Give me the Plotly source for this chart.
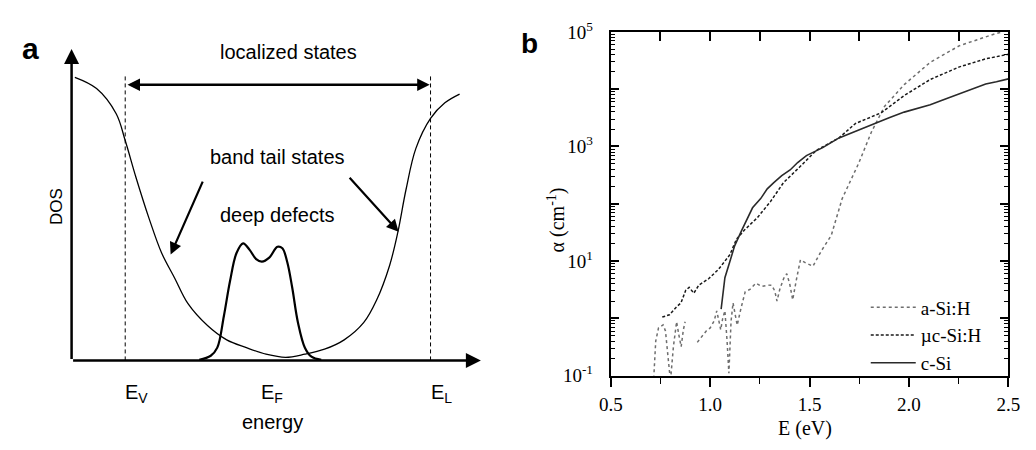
import plotly.graph_objects as go

W, H = 1036, 450

# ---------------- panel a: schematic density of states (arbitrary units) ----------------
dos_energy = [0.08, 0.61, 1.09, 1.31, 1.57, 1.89, 2.20, 2.52, 2.84, 3.32, 3.79, 4.27, 4.75,
              5.23, 5.70, 6.18, 6.66, 7.14, 7.45, 7.77, 7.97, 8.17, 8.41, 8.77, 9.12, 9.48]
dos_value = [9.09, 8.73, 7.92, 7.06, 5.89, 4.57, 3.45, 2.64, 1.83, 1.12, 0.66, 0.41, 0.20,
             0.10, 0.20, 0.36, 0.66, 1.22, 1.93, 3.05, 4.11, 5.48, 6.80, 7.77, 8.27, 8.55]

defect_energy = [3.12, 3.40, 3.56, 3.72, 3.87, 4.03, 4.19, 4.35, 4.51, 4.65, 4.83, 5.03,
                 5.15, 5.27, 5.39, 5.53, 5.70, 5.86, 6.10]
defect_value = [0.02, 0.15, 0.41, 1.42, 2.54, 3.45, 3.76, 3.55, 3.25, 3.17, 3.30, 3.65,
                3.60, 3.15, 2.34, 1.22, 0.41, 0.12, 0.02]

valence_edge = 1.31      # E_V
fermi_level = 4.62       # E_F
mobility_edge = 8.77     # E_L
edge_top = 9.14

# ---------------- panel b: absorption coefficient vs photon energy ----------------
a_si_E = [0.716, 0.726, 0.740, 0.763, 0.775, 0.790, 0.800, 0.815, 0.831, 0.843, 0.854, 0.865, 0.874,
          None,
          0.935, 0.960, 0.980, 1.000, 1.020, 1.033, 1.045, 1.053, 1.063, 1.074, 1.085, 1.094,
          1.105, 1.115, 1.125, 1.136, 1.155, 1.176, 1.200, 1.230, 1.260, 1.290, 1.310, 1.325,
          1.336, 1.350, 1.370, 1.385, 1.400, 1.415, 1.435, 1.454, 1.480, 1.517, 1.559, 1.609,
          1.664, 1.746, 1.812, 1.877, 1.976, 2.107, 2.254, 2.386, 2.435, 2.470]
a_si_alpha = [0.09, 0.40, 0.68, 0.77, 0.60, 0.15, 0.08, 0.32, 0.87, 0.50, 0.32, 0.63, 0.87,
              None,
              0.38, 0.48, 0.60, 0.68, 0.90, 1.35, 0.80, 0.63, 1.00, 1.35, 0.40, 0.11,
              0.90, 1.86, 1.20, 0.76, 1.50, 2.90, 3.20, 4.10, 3.60, 3.80, 3.76, 3.00,
              2.00, 3.20, 5.00, 6.00, 4.00, 2.10, 5.00, 10.5, 9.30, 8.10, 15.0, 28.0,
              123, 500, 1820, 5010, 12020, 29510, 57540, 83180, 93330, 100000]

uc_si_E = [0.759, 0.795, 0.828, 0.853, 0.877, 0.894, 0.918, 0.943, 0.992, 1.041, 1.099, 1.132,
           1.172, 1.238, 1.304, 1.369, 1.450, 1.533, 1.648, 1.730, 1.861, 1.976, 2.107, 2.254,
           2.386, 2.500]
uc_si_alpha = [1.05, 1.15, 1.55, 1.86, 3.09, 3.47, 2.75, 3.80, 4.90, 7.10, 12.9, 24.0,
               34.7, 57.5, 110, 234, 437, 851, 1413, 2512, 3890, 7762, 14790, 24550,
               33880, 40740]

c_si_E = [1.055, 1.062, 1.074, 1.099, 1.123, 1.159, 1.197, 1.213, 1.254, 1.287, 1.320, 1.360,
          1.402, 1.440, 1.484, 1.566, 1.648, 1.746, 1.828, 1.900, 1.976, 2.040, 2.107, 2.170,
          2.238, 2.310, 2.386, 2.440, 2.500]
c_si_alpha = [1.45, 2.5, 5.1, 9.8, 18.4, 34.7, 66, 85, 123, 182, 234, 309,
              389, 525, 692, 955, 1413, 1950, 2512, 3162, 3981, 4571, 5370, 6457,
              7943, 9772, 12300, 13490, 15140]

x_ticks = [0.5, 1.0, 1.5, 2.0, 2.5]
x_tick_text = ["0.5", "1.0", "1.5", "2.0", "2.5"]
y_ticks = [0.1, 1, 10, 100, 1000, 10000, 100000]
y_tick_text = ["10<sup>-1</sup>", "", "10<sup>1</sup>", "", "10<sup>3</sup>", "", "10<sup>5</sup>"]

SANS = "Liberation Sans, Arial, sans-serif"
SERIF = "Liberation Serif, Times New Roman, serif"


def px(x):
    return x / W


def py(y):
    return 1 - y / H


fig = go.Figure()

# panel a curves
fig.add_trace(go.Scatter(x=dos_energy, y=dos_value, mode="lines", line_shape="spline",
                         line=dict(color="black", width=1.3), showlegend=False,
                         xaxis="x", yaxis="y", hoverinfo="skip"))
fig.add_trace(go.Scatter(x=defect_energy, y=defect_value, mode="lines", line_shape="spline",
                         line=dict(color="black", width=2.2), showlegend=False,
                         xaxis="x", yaxis="y", hoverinfo="skip"))
for e in (valence_edge, mobility_edge):
    fig.add_trace(go.Scatter(x=[e, e], y=[0, edge_top], mode="lines",
                             line=dict(color="black", width=1, dash="4px,3px"),
                             showlegend=False, xaxis="x", yaxis="y", hoverinfo="skip"))

# panel b curves
fig.add_trace(go.Scatter(x=a_si_E, y=a_si_alpha, mode="lines", name="a-Si:H",
                         line=dict(color="#6e6e6e", width=1.5, dash="dot"),
                         connectgaps=False, xaxis="x2", yaxis="y2"))
fig.add_trace(go.Scatter(x=uc_si_E, y=uc_si_alpha, mode="lines", name="µc-Si:H",
                         line=dict(color="#1a1a1a", width=1.5, dash="3px,2px"),
                         xaxis="x2", yaxis="y2"))
fig.add_trace(go.Scatter(x=c_si_E, y=c_si_alpha, mode="lines", name="c-Si",
                         line=dict(color="#2a2a2a", width=1.6),
                         xaxis="x2", yaxis="y2"))
# carrier for the mirrored top/right frame axes
fig.add_trace(go.Scatter(x=[], y=[], xaxis="x3", yaxis="y3", showlegend=False, hoverinfo="skip"))

minor_y = [m * 10 ** k for k in range(-1, 5) for m in range(2, 10)]

annotations = []


def arrow(x, y, ax, ay, size=1.2, width=2.5, both=False):
    a = dict(x=x, y=y, ax=ax, ay=ay, xref="x", yref="y", axref="x", ayref="y",
             showarrow=True, arrowhead=2, arrowsize=size, arrowwidth=width,
             arrowcolor="black", standoff=0, startstandoff=0, text="")
    if both:
        a.update(arrowside="end+start", startarrowhead=2, startarrowsize=size)
    return a


# axis arrows of panel a
annotations.append(arrow(0, 10, 0, 0))
annotations.append(arrow(10, 0, 0, 0))
# localized states span
annotations.append(arrow(mobility_edge - 0.02, 8.85, valence_edge + 0.02, 8.85, size=1.0, both=True))
# band tail pointers
annotations.append(arrow(2.42, 3.40, 3.22, 5.79, size=1.1, width=2.2))
annotations.append(arrow(7.99, 4.13, 6.76, 5.91, size=1.1, width=2.2))


def text(t, x, y, size, family=SANS, **kw):
    d = dict(text=t, x=px(x), y=py(y), xref="paper", yref="paper", showarrow=False,
             xanchor="center", yanchor="middle",
             font=dict(family=family, size=size, color="black"))
    d.update(kw)
    return d


annotations += [
    text("<b>a</b>", 19, 38, 30),
    text("<b>b</b>", 530, 32, 28),
    text("localized states", 283, 41, 20),
    text("band tail states", 272, 152, 20),
    text("deep defects", 272, 213, 20),
    text("DOS", 45, 204, 17, textangle=-90),
    text("energy", 267, 432, 20),
    text("E (eV)", 812, 439, 20, family=SERIF),
    text("α (cm<sup>-1</sup>)", 557, 219, 20, family=SERIF, textangle=-90),
]
for e, sub in ((valence_edge, "V"), (fermi_level, "F"), (mobility_edge, "L")):
    annotations.append(dict(text=f"E<sub>{sub}</sub>", x=e, y=py(402), xref="x", yref="paper",
                            xanchor="left", yanchor="middle", xshift=-2, showarrow=False,
                            font=dict(family=SANS, size=20, color="black")))

frame = dict(showline=True, linecolor="black", linewidth=2, showgrid=False, zeroline=False)

fig.update_layout(
    width=W, height=H,
    margin=dict(l=0, r=0, t=0, b=0, pad=0),
    paper_bgcolor="white", plot_bgcolor="white",
    xaxis=dict(domain=[px(61), px(480)], range=[0, 10], visible=False, anchor="y"),
    yaxis=dict(domain=[py(367), py(38)], range=[0, 10], visible=False, anchor="x"),
    xaxis2=dict(domain=[px(613), px(1020)], range=[0.5, 2.5], anchor="y2",
                tickvals=x_ticks, ticktext=x_tick_text, ticks="outside", ticklen=9,
                tickwidth=1.5, tickcolor="black", ticklabelstandoff=2,
                tickfont=dict(family=SERIF, size=19, color="black"),
                minor=dict(tickvals=[0.75, 1.25, 1.75, 2.25], ticks="outside",
                           ticklen=6, tickwidth=1.2, tickcolor="black"),
                **frame),
    yaxis2=dict(domain=[py(383), py(20)], type="log", range=[-1, 5], anchor="x2",
                tickvals=y_ticks, ticktext=y_tick_text, ticks="inside", ticklen=8,
                tickwidth=1.5, tickcolor="black", ticklabelstandoff=12,
                tickfont=dict(family=SERIF, size=19, color="black"),
                minor=dict(tickvals=minor_y, ticks="inside", ticklen=4,
                           tickwidth=1, tickcolor="black"),
                **frame),
    xaxis3=dict(overlaying="x2", side="top", anchor="y2", range=[0.5, 2.5],
                dtick=0.25, tick0=0.5, ticks="inside", ticklen=9, tickwidth=1.5,
                tickcolor="black", showticklabels=False, **frame),
    yaxis3=dict(overlaying="y2", side="right", anchor="x2", type="log", range=[-1, 5],
                tickvals=y_ticks, ticks="inside", ticklen=8, tickwidth=1.5,
                tickcolor="black", showticklabels=False,
                minor=dict(tickvals=minor_y, ticks="inside", ticklen=4,
                           tickwidth=1, tickcolor="black"),
                **frame),
    legend=dict(x=px(874), y=py(291), xanchor="left", yanchor="top",
                bgcolor="rgba(0,0,0,0)", tracegroupgap=0, itemwidth=45,
                font=dict(family=SERIF, size=19, color="black")),
    annotations=annotations,
)

fig.write_html("out.html", post_script="document.body.style.margin='0';")
